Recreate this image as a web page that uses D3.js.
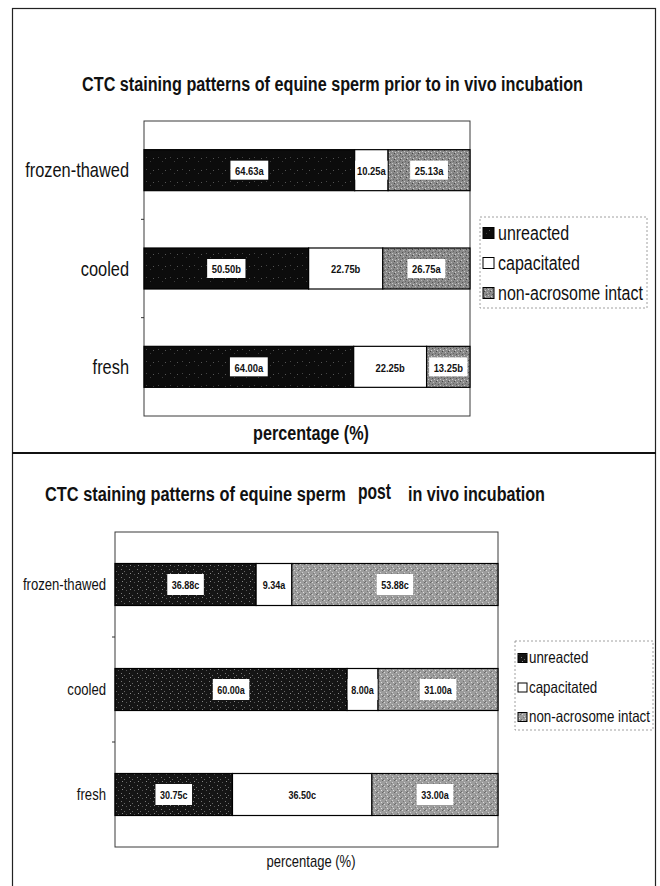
<!DOCTYPE html>
<html>
<head>
<meta charset="utf-8">
<script src="https://cdn.jsdelivr.net/npm/d3@7/dist/d3.min.js"></script>
<style>
  html, body { margin: 0; padding: 0; background: #fff; }
  svg { display: block; }
  text { font-family: 'Liberation Sans', Arial, sans-serif; fill: #111; }
</style>
</head>
<body>
<svg id="chart" width="660" height="886"></svg>
<script>
// ---------------- data ----------------
const categories = ["frozen-thawed", "cooled", "fresh"];
const seriesNames = ["unreacted", "capacitated", "non-acrosome intact"];

// prior to in vivo incubation
const priorUnreacted   = [64.63, 50.50, 64.00];
const priorCapacitated = [10.25, 22.75, 22.25];
const priorNonAcrosome = [25.13, 26.75, 13.25];
const priorUnreactedSig   = ["a", "b", "a"];
const priorCapacitatedSig = ["a", "b", "b"];
const priorNonAcrosomeSig = ["a", "a", "b"];

// post in vivo incubation
const postUnreacted   = [36.88, 60.00, 30.75];
const postCapacitated = [9.34, 8.00, 36.50];
const postNonAcrosome = [53.88, 31.00, 33.00];
const postUnreactedSig   = ["c", "a", "c"];
const postCapacitatedSig = ["a", "a", "c"];
const postNonAcrosomeSig = ["c", "a", "a"];

const titlePrior = "CTC staining patterns of equine sperm prior to in vivo incubation";
const titlePostParts = ["CTC staining patterns of equine sperm", "post", "in vivo incubation"];
const xAxisTitle = "percentage (%)";

// ---------------- drawing ----------------
const SX = 0.82; // narrow-font horizontal compression
const svg = d3.select("#chart");
const defs = svg.append("defs");

function tr(x, y, sx) { return `translate(${x},${y}) scale(${sx},1)`; }

// text fitted to a given width (narrow face emulation)
function fitText(x, y, str, size, weight, anchor, width) {
  const t = svg.append("text").attr("font-size", size).attr("font-weight", weight)
    .attr("text-anchor", anchor).attr("dominant-baseline", "central").text(str);
  const len = t.node().getComputedTextLength();
  t.attr("transform", tr(x, y, width / len));
  return t;
}

function makePattern(id, base, dots, size) {
  const p = defs.append("pattern").attr("id", id)
    .attr("patternUnits", "userSpaceOnUse").attr("width", size).attr("height", size);
  p.append("rect").attr("width", size).attr("height", size).attr("fill", base);
  dots.forEach(d => p.append("rect").attr("x", d[0]).attr("y", d[1])
    .attr("width", 1).attr("height", 1).attr("fill", d[2]));
}
makePattern("unTop", "#0c0c0c", [[2,1,"#444"],[6,5,"#3a3a3a"],[9,2,"#555"]], 12);
makePattern("naTop", "#8a8a8a",
  [[0,0,"#555"],[2,1,"#c8c8c8"],[4,3,"#464646"],[1,4,"#bdbdbd"],[3,5,"#666"],[5,2,"#d0d0d0"]], 6);
makePattern("unBot", "#151515",
  [[1,1,"#777"],[4,3,"#666"],[2,5,"#888"],[6,6,"#555"]], 8);
makePattern("naBot", "#9c9c9c",
  [[0,0,"#d8d8d8"],[2,2,"#d0d0d0"],[4,0,"#666"],[1,3,"#777"],[3,4,"#e0e0e0"],[5,5,"#6e6e6e"]], 6);

// outer frame and divider
svg.append("rect").attr("x", 12.5).attr("y", 8.5).attr("width", 643).attr("height", 900)
  .attr("fill", "none").attr("stroke", "#222").attr("stroke-width", 1.2);
svg.append("line").attr("x1", 12).attr("x2", 656).attr("y1", 453).attr("y2", 453)
  .attr("stroke", "#111").attr("stroke-width", 1.8);

function drawChart(cfg) {
  const g = svg.append("g");
  const rows = categories.map((c, i) => ({
    category: c,
    unreacted: cfg.values[0][i], capacitated: cfg.values[1][i], "non-acrosome intact": cfg.values[2][i],
    sig: [cfg.sigs[0][i], cfg.sigs[1][i], cfg.sigs[2][i]]
  }));
  const stacked = d3.stack().keys(seriesNames).offset(d3.stackOffsetExpand)(rows);

  const x = d3.scaleLinear().domain([0, 1]).range([cfg.left, cfg.right]);
  const y = d3.scaleBand().domain(categories).range([cfg.top, cfg.bottom])
    .paddingInner(cfg.pad).paddingOuter(cfg.pad / 2);

  // plot area frame
  g.append("rect").attr("x", cfg.left).attr("y", cfg.top)
    .attr("width", cfg.right - cfg.left).attr("height", cfg.bottom - cfg.top)
    .attr("fill", "#fff").attr("stroke", "#3a3a3a").attr("stroke-width", 1);

  // category axis (ticks at band boundaries, labels centered on bands)
  const boundaries = categories.slice(1).map(c => y(c) - y.step() * y.paddingInner() / 2);
  g.selectAll(".btick").data(boundaries).join("line")
    .attr("x1", cfg.left - 3).attr("x2", cfg.left).attr("y1", d => d).attr("y2", d => d)
    .attr("stroke", "#333");
  g.selectAll(".cat").data(categories).join("text")
    .attr("transform", d => tr(cfg.catX, y(d) + y.bandwidth() / 2, SX))
    .attr("text-anchor", "end").attr("dominant-baseline", "central")
    .attr("font-size", cfg.catSize).text(d => d);

  // bars
  const fills = [cfg.patUn, "#ffffff", cfg.patNa];
  stacked.forEach((layer, si) => {
    g.selectAll(".seg" + si).data(layer).join("rect")
      .attr("x", d => x(d[0])).attr("width", d => x(d[1]) - x(d[0]))
      .attr("y", d => y(d.data.category)).attr("height", y.bandwidth())
      .attr("fill", fills[si]).attr("stroke", "#000").attr("stroke-width", 1.2);
  });

  // data labels with white boxes
  stacked.forEach((layer, si) => {
    layer.forEach(d => {
      const cx = (x(d[0]) + x(d[1])) / 2;
      const cy = y(d.data.category) + y.bandwidth() / 2;
      const label = d3.format(".2f")(d.data[seriesNames[si]]) + d.data.sig[si];
      const lg = g.append("g");
      const box = lg.append("rect").attr("fill", "#fff");
      const t = lg.append("text").attr("transform", tr(cx, cy + 0.5, SX))
        .attr("text-anchor", "middle").attr("dominant-baseline", "central")
        .attr("font-size", cfg.labSize).attr("font-weight", "bold").text(label);
      const w = Math.min(t.node().getComputedTextLength() * SX + cfg.boxPad, x(d[1]) - x(d[0]) - 1);
      box.attr("x", cx - w / 2).attr("y", cy - cfg.boxH / 2).attr("width", w).attr("height", cfg.boxH);
    });
  });

  // legend
  const L = cfg.legend;
  g.append("rect").attr("x", L.x).attr("y", L.y).attr("width", L.w).attr("height", L.h)
    .attr("fill", "none").attr("stroke", "#888").attr("stroke-width", 0.8).attr("stroke-dasharray", "2,2");
  const ly = d3.scalePoint().domain(seriesNames).range([L.first, L.first + 2 * L.gap]);
  g.selectAll(".sw").data(seriesNames).join("rect")
    .attr("x", L.swX).attr("y", d => ly(d) - L.sw / 2).attr("width", L.sw).attr("height", L.sw)
    .attr("fill", (d, i) => fills[i]).attr("stroke", "#000").attr("stroke-width", 1);
  g.selectAll(".lt").data(seriesNames).join("text")
    .attr("transform", d => tr(L.textX, ly(d), SX))
    .attr("dominant-baseline", "central").attr("font-size", L.size).text(d => d);
}

// ---------- top chart ----------
fitText(332.5, 84, titlePrior, 20, "bold", "middle", 501);
drawChart({
  values: [priorUnreacted, priorCapacitated, priorNonAcrosome],
  sigs: [priorUnreactedSig, priorCapacitatedSig, priorNonAcrosomeSig],
  left: 144, right: 470, top: 121, bottom: 416, pad: 0.583,
  catX: 129, catSize: 20, labSize: 11.5, boxH: 19, boxPad: 9,
  patUn: "url(#unTop)", patNa: "url(#naTop)",
  legend: { x: 480, y: 217, w: 167, h: 91, first: 233, gap: 30, sw: 11, swX: 483, textX: 498, size: 19.5 }
});
fitText(311, 433, xAxisTitle, 20, "bold", "middle", 116);

// ---------- bottom chart ----------
fitText(45, 494, titlePostParts[0], 20, "bold", "start", 301);
fitText(358, 492, titlePostParts[1], 22, "bold", "start", 33);
fitText(408, 494, titlePostParts[2], 20, "bold", "start", 137);
drawChart({
  values: [postUnreacted, postCapacitated, postNonAcrosome],
  sigs: [postUnreactedSig, postCapacitatedSig, postNonAcrosomeSig],
  left: 115, right: 498, top: 532, bottom: 847, pad: 0.6,
  catX: 106, catSize: 16, labSize: 11, boxH: 21, boxPad: 9,
  patUn: "url(#unBot)", patNa: "url(#naBot)",
  legend: { x: 515, y: 641, w: 138, h: 89, first: 658, gap: 29.5, sw: 9, swX: 518, textX: 529, size: 16.3 }
});
fitText(311, 862, xAxisTitle, 16, "normal", "middle", 89);
</script>
</body>
</html>
